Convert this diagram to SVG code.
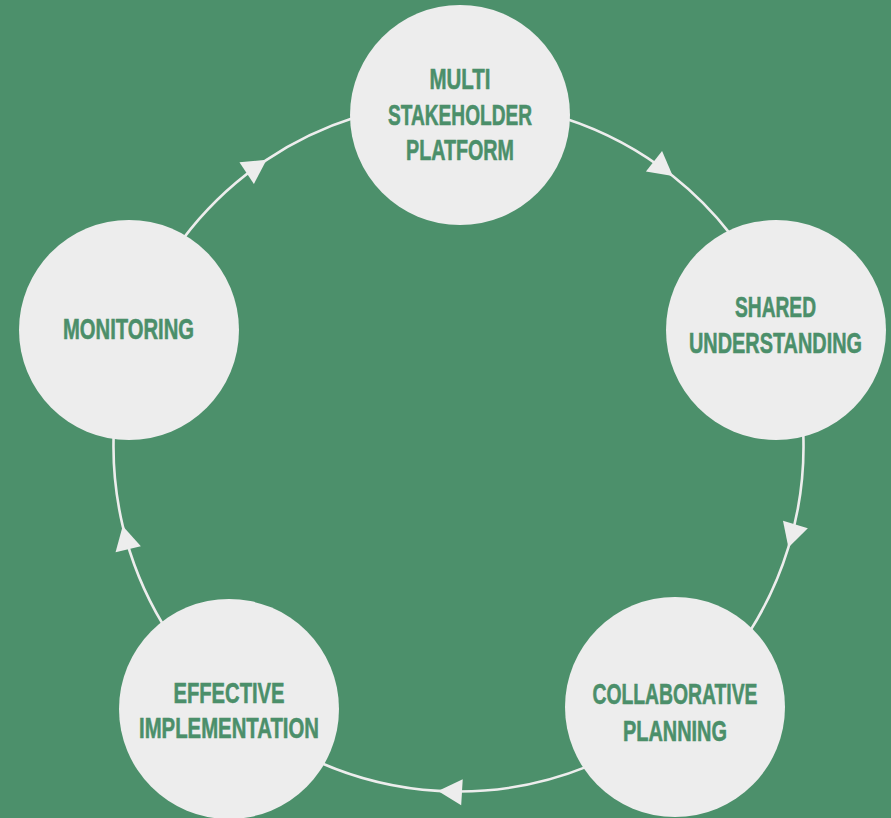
<svg xmlns="http://www.w3.org/2000/svg" width="891" height="818" viewBox="0 0 891 818">
  <style>
    .node circle { fill: #ededed; }
    .node text { fill: #4b8f6a; stroke: #4b8f6a; stroke-width: 0.6; font-family: "Liberation Sans", Arial, sans-serif; font-weight: bold; font-size: 30px; text-anchor: middle; }
    .conn { fill: none; stroke: #ededed; stroke-width: 2.6; marker-mid: url(#arrow); }
  </style>
  <defs>
    <marker id="arrow" markerUnits="userSpaceOnUse" orient="auto" viewBox="-26 -15 28 30" refX="0" refY="0" markerWidth="28" markerHeight="30">
      <path d="M0,0 L-24,-13 L-24,13 Z" fill="#ededed"/>
    </marker>
  </defs>
  <rect width="891" height="818" fill="#4c906b"/>
  <g id="connectors">
    <path class="conn" d="M 565.1 118.4 A 345 345 0 0 1 672.8 176.1 A 345 345 0 0 1 730.4 234.1"/>
    <path class="conn" d="M 803.3 434.5 A 345 345 0 0 1 788.4 547.4 A 345 345 0 0 1 749.5 631.9"/>
    <path class="conn" d="M 587.7 766.4 A 345 345 0 0 1 438.0 790.9 A 345 345 0 0 1 318.2 761.7"/>
    <path class="conn" d="M 162.8 624.2 A 345 345 0 0 1 122.7 525.9 A 345 345 0 0 1 113.7 434.5"/>
    <path class="conn" d="M 183.0 238.9 A 345 345 0 0 1 266.6 159.8 A 345 345 0 0 1 354.8 117.5"/>
  </g>
  <g id="node-multi" class="node">
    <circle cx="460" cy="115" r="110"/>
    <text x="460" y="89" textLength="61" lengthAdjust="spacingAndGlyphs">MULTI</text>
    <text x="460" y="125" textLength="144" lengthAdjust="spacingAndGlyphs">STAKEHOLDER</text>
    <text x="460" y="160" textLength="108" lengthAdjust="spacingAndGlyphs">PLATFORM</text>
  </g>
  <g id="node-shared" class="node">
    <circle cx="776" cy="330" r="110"/>
    <text x="775.5" y="317" textLength="81" lengthAdjust="spacingAndGlyphs">SHARED</text>
    <text x="775.5" y="353" textLength="173" lengthAdjust="spacingAndGlyphs">UNDERSTANDING</text>
  </g>
  <g id="node-collab" class="node">
    <circle cx="675" cy="707" r="110"/>
    <text x="675" y="704" textLength="165" lengthAdjust="spacingAndGlyphs">COLLABORATIVE</text>
    <text x="675" y="741" textLength="104" lengthAdjust="spacingAndGlyphs">PLANNING</text>
  </g>
  <g id="node-effective" class="node">
    <circle cx="229" cy="709" r="110"/>
    <text x="229" y="703" textLength="111" lengthAdjust="spacingAndGlyphs">EFFECTIVE</text>
    <text x="229" y="738" textLength="180" lengthAdjust="spacingAndGlyphs">IMPLEMENTATION</text>
  </g>
  <g id="node-monitoring" class="node">
    <circle cx="129" cy="330" r="110"/>
    <text x="128.5" y="339" textLength="131" lengthAdjust="spacingAndGlyphs">MONITORING</text>
  </g>
</svg>
